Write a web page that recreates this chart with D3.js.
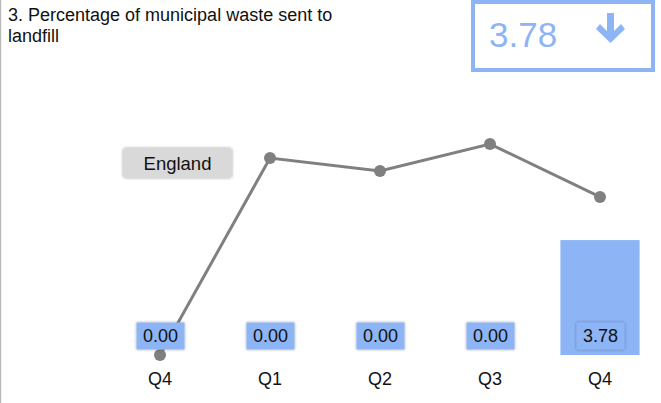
<!DOCTYPE html>
<html>
<head>
<meta charset="utf-8">
<script src="https://cdn.jsdelivr.net/npm/d3@7"></script>
<style>
  body { margin: 0; background: #fff; }
  svg { display: block; font-family: "Liberation Sans", Arial, sans-serif; }
</style>
</head>
<body>
<svg id="chart"></svg>
<script>
// chart values
const quarters = ['Q4', 'Q1', 'Q2', 'Q3', 'Q4'];
const barValues = [0, 0, 0, 0, 3.78];
const englandValues = [0, 6.48, 6.05, 6.94, 5.2];
const latestValue = 3.78;

const width = 661;
const height = 403;
const blue = '#8db4f5';

const svg = d3.select('#chart')
  .attr('width', width)
  .attr('height', height);

// soft shadow for the little label boxes
const defs = svg.append('defs');
const shadow = defs.append('filter').attr('id', 'shadow')
  .attr('x', '-30%').attr('y', '-30%').attr('width', '160%').attr('height', '160%');
shadow.append('feDropShadow')
  .attr('dx', 0).attr('dy', 0).attr('stdDeviation', 1.8)
  .attr('flood-color', '#000').attr('flood-opacity', 0.35);

// left edge rule
svg.append('line')
  .attr('x1', 0.5).attr('x2', 0.5).attr('y1', 0).attr('y2', height)
  .attr('stroke', '#bbb').attr('stroke-width', 1.5);

// title
const title = svg.append('text')
  .attr('x', 8).attr('y', 21)
  .attr('font-size', 18).attr('fill', '#111');
title.append('tspan').attr('x', 8).text('3. Percentage of municipal waste sent to');
title.append('tspan').attr('x', 8).attr('dy', 21).text('landfill');

// KPI box
svg.append('rect')
  .attr('x', 473).attr('y', 2).attr('width', 180).attr('height', 68)
  .attr('fill', '#fff').attr('stroke', blue).attr('stroke-width', 4);
svg.append('text')
  .attr('x', 489).attr('y', 47)
  .attr('font-size', 35).attr('fill', blue)
  .text(latestValue.toFixed(2));
// down arrow
svg.append('path')
  .attr('d', 'M607,13 h7 v18 l7,-7 l4,5 l-14.5,14 l-14.5,-14 l4,-5 l7,7 z')
  .attr('fill', blue);

// scales
const x = d3.scaleBand()
  .domain(d3.range(quarters.length))
  .range([105, 655])
  .paddingInner(0.28)
  .paddingOuter(0.14);

const y = d3.scaleLinear()
  .domain([0, 8])
  .range([355, 355 - 8 * 30.4]);

const cx = (i) => x(i) + x.bandwidth() / 2;

// bars
svg.append('g').selectAll('rect')
  .data(barValues)
  .join('rect')
    .attr('x', (d, i) => x(i))
    .attr('width', x.bandwidth())
    .attr('y', (d) => y(d))
    .attr('height', (d) => y(0) - y(d))
    .attr('fill', blue);

// England line
const line = d3.line()
  .x((d, i) => cx(i))
  .y((d) => y(d));

svg.append('path')
  .datum(englandValues)
  .attr('d', line)
  .attr('fill', 'none')
  .attr('stroke', '#808080')
  .attr('stroke-width', 3);

svg.append('g').selectAll('circle')
  .data(englandValues)
  .join('circle')
    .attr('cx', (d, i) => cx(i))
    .attr('cy', (d) => y(d))
    .attr('r', 6)
    .attr('fill', '#808080');

// value label boxes
const labels = svg.append('g').selectAll('g')
  .data(barValues)
  .join('g')
    .attr('transform', (d, i) => `translate(${cx(i) + 0.5},336)`);

labels.append('rect')
  .attr('x', -24).attr('y', -13.5).attr('width', 48).attr('height', 27)
  .attr('fill', blue)
  .attr('filter', 'url(#shadow)');

labels.append('text')
  .attr('text-anchor', 'middle')
  .attr('dy', '0.36em')
  .attr('font-size', 18)
  .attr('fill', '#111')
  .text((d) => d.toFixed(2));

// x axis labels
const xAxis = d3.axisBottom(x)
  .tickFormat((i) => quarters[i])
  .tickSize(0)
  .tickPadding(0);

svg.append('g')
  .attr('transform', 'translate(0,372)')
  .call(xAxis)
  .call((g) => g.select('.domain').remove())
  .call((g) => g.selectAll('text')
    .attr('font-size', 18)
    .attr('fill', '#111')
    .attr('font-family', '"Liberation Sans", Arial, sans-serif'));

// legend chip
const legend = svg.append('g').attr('transform', 'translate(123,148)');
legend.append('rect')
  .attr('width', 109).attr('height', 30).attr('rx', 3)
  .attr('fill', '#d9d9d9')
  .attr('filter', 'url(#shadow)');
legend.append('text')
  .attr('x', 54.5).attr('y', 15).attr('dy', '0.36em')
  .attr('text-anchor', 'middle')
  .attr('font-size', 18.5).attr('fill', '#111')
  .text('England');
</script>
</body>
</html>
